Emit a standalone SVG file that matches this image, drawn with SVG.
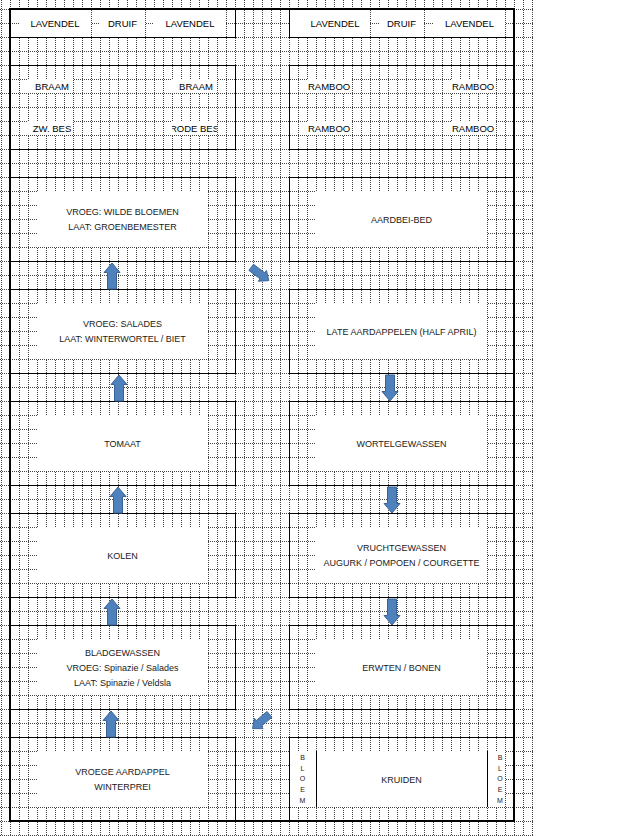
<svg xmlns="http://www.w3.org/2000/svg" width="617" height="836" viewBox="0 0 617 836">
<style>
.grid{fill:none;stroke:#444;stroke-width:1;stroke-dasharray:1 1;shape-rendering:crispEdges}
.cell{fill:#fff}
.box{fill:none;stroke:#000;stroke-width:1;shape-rendering:crispEdges}
.border{fill:none;stroke:#000;stroke-width:2;shape-rendering:crispEdges}
.t{font-family:"Liberation Sans",Arial,sans-serif;font-size:9.5px;fill:#000;text-anchor:middle}
.tl{font-family:"Liberation Sans",Arial,sans-serif;font-size:9.5px;fill:#000}
.b{font-family:"Liberation Sans",Arial,sans-serif;font-size:9px;fill:#1a1a1a;text-anchor:middle}
.s{font-family:"Liberation Sans",Arial,sans-serif;font-size:7px;fill:#1a1a1a;text-anchor:middle}
.arrow{fill:#4f81bd;stroke:#3a6394;stroke-width:1}
</style>
<defs>
<path id="arr" d="M0,-13 L8,-3.5 L4.5,-3.5 L4.5,13 L-4.5,13 L-4.5,-3.5 L-8,-3.5 Z"/>
<clipPath id="clipRode"><rect x="172" y="121" width="45" height="14"/></clipPath>
</defs>
<rect x="0" y="0" width="617" height="836" fill="#fff"/>
<g id="grid">
<path class="grid" d="M1.5,0V836M10.5,0V836M19.5,0V836M28.5,0V836M37.5,0V836M46.5,0V836M55.5,0V836M64.5,0V836M73.5,0V836M82.5,0V836M91.5,0V836M100.5,0V836M109.5,0V836M118.5,0V836M127.5,0V836M136.5,0V836M145.5,0V836M154.5,0V836M163.5,0V836M172.5,0V836M181.5,0V836M190.5,0V836M199.5,0V836M208.5,0V836M217.5,0V836M226.5,0V836M235.5,0V836M244.5,0V836M253.5,0V836M262.5,0V836M271.5,0V836M280.5,0V836M289.5,0V836M298.5,0V836M307.5,0V836M316.5,0V836M325.5,0V836M334.5,0V836M343.5,0V836M352.5,0V836M361.5,0V836M370.5,0V836M379.5,0V836M388.5,0V836M397.5,0V836M406.5,0V836M415.5,0V836M424.5,0V836M433.5,0V836M442.5,0V836M451.5,0V836M460.5,0V836M469.5,0V836M478.5,0V836M487.5,0V836M496.5,0V836M505.5,0V836M514.5,0V836M523.5,0V836M532.5,0V836"/>
<path class="grid" d="M0,9.5H533M0,23.5H533M0,37.5H533M0,51.5H533M0,65.5H533M0,79.5H533M0,93.5H533M0,107.5H533M0,121.5H533M0,135.5H533M0,149.5H533M0,163.5H533M0,177.5H533M0,191.5H533M0,205.5H533M0,219.5H533M0,233.5H533M0,247.5H533M0,261.5H533M0,275.5H533M0,289.5H533M0,303.5H533M0,317.5H533M0,331.5H533M0,345.5H533M0,359.5H533M0,373.5H533M0,387.5H533M0,401.5H533M0,415.5H533M0,429.5H533M0,443.5H533M0,457.5H533M0,471.5H533M0,485.5H533M0,499.5H533M0,513.5H533M0,527.5H533M0,541.5H533M0,555.5H533M0,569.5H533M0,583.5H533M0,597.5H533M0,611.5H533M0,625.5H533M0,639.5H533M0,653.5H533M0,667.5H533M0,681.5H533M0,695.5H533M0,709.5H533M0,723.5H533M0,737.5H533M0,751.5H533M0,765.5H533M0,779.5H533M0,793.5H533M0,807.5H533M0,821.5H533M0,835.5H533"/>
</g>

<g id="left-top">
<rect class="cell" x="19" y="10" width="72" height="27"/>
<rect class="cell" x="100" y="10" width="45" height="27"/>
<rect class="cell" x="154" y="10" width="72" height="27"/>
<rect class="box" x="10.5" y="9.5" width="225" height="28"/>
<text class="t" x="55" y="26.5">LAVENDEL</text>
<text class="t" x="122.5" y="26.5">DRUIF</text>
<text class="t" x="190" y="26.5">LAVENDEL</text>
</g>
<g id="right-top">
<rect class="cell" x="289" y="10" width="81" height="27"/>
<rect class="cell" x="379" y="10" width="45" height="27"/>
<rect class="cell" x="433" y="10" width="72" height="27"/>
<rect class="box" x="289.5" y="9.5" width="225" height="28"/>
<text class="t" x="335" y="26.5">LAVENDEL</text>
<text class="t" x="401.5" y="26.5">DRUIF</text>
<text class="t" x="469.5" y="26.5">LAVENDEL</text>
</g>

<g id="left-berries">
<rect class="cell" x="28" y="79" width="45" height="14"/>
<rect class="cell" x="172" y="79" width="45" height="14"/>
<rect class="cell" x="28" y="121" width="45" height="14"/>
<rect class="cell" x="172" y="121" width="45" height="14"/>
<rect class="box" x="10.5" y="65.5" width="225" height="84"/>
<text class="t" x="52" y="89.5">BRAAM</text>
<text class="t" x="196" y="89.5">BRAAM</text>
<text class="t" x="52" y="131.5">ZW. BES</text>
<text class="t" x="194.5" y="131.5" clip-path="url(#clipRode)">RODE BES</text>
</g>
<g id="right-berries">
<rect class="cell" x="307" y="79" width="45" height="14"/>
<rect class="cell" x="451" y="79" width="45" height="14"/>
<rect class="cell" x="307" y="121" width="45" height="14"/>
<rect class="cell" x="451" y="121" width="45" height="14"/>
<rect class="box" x="289.5" y="65.5" width="225" height="84"/>
<text class="tl" x="308" y="89.5">RAMBOO</text>
<text class="tl" x="452" y="89.5">RAMBOO</text>
<text class="tl" x="308" y="131.5">RAMBOO</text>
<text class="tl" x="452" y="131.5">RAMBOO</text>
</g>

<g id="wilde-bloemen">
<rect class="cell" x="37" y="191" width="171" height="56"/>
<rect class="box" x="10.5" y="177.5" width="225" height="84"/>
<text class="b" x="122.5" y="215">VROEG: WILDE BLOEMEN</text>
<text class="b" x="122.5" y="229.5">LAAT: GROENBEMESTER</text>
</g>
<g id="salades">
<rect class="cell" x="37" y="303" width="171" height="56"/>
<rect class="box" x="10.5" y="289.5" width="225" height="84"/>
<text class="b" x="122.5" y="327">VROEG: SALADES</text>
<text class="b" x="122.5" y="341.5">LAAT: WINTERWORTEL / BIET</text>
</g>
<g id="tomaat">
<rect class="cell" x="37" y="415" width="171" height="56"/>
<rect class="box" x="10.5" y="401.5" width="225" height="84"/>
<text class="b" x="122.5" y="446.5">TOMAAT</text>
</g>
<g id="kolen">
<rect class="cell" x="37" y="527" width="171" height="56"/>
<rect class="box" x="10.5" y="513.5" width="225" height="84"/>
<text class="b" x="122.5" y="558.5">KOLEN</text>
</g>
<g id="bladgewassen">
<rect class="cell" x="37" y="639" width="171" height="56"/>
<rect class="box" x="10.5" y="625.5" width="225" height="84"/>
<text class="b" x="122.5" y="656">BLADGEWASSEN</text>
<text class="b" x="122.5" y="671">VROEG: Spinazie / Salades</text>
<text class="b" x="122.5" y="686">LAAT: Spinazie / Veldsla</text>
</g>
<g id="vroege-aardappel">
<rect class="cell" x="37" y="751" width="171" height="56"/>
<rect class="box" x="10.5" y="737.5" width="225" height="84"/>
<text class="b" x="122.5" y="775">VROEGE AARDAPPEL</text>
<text class="b" x="122.5" y="790">WINTERPREI</text>
</g>

<g id="aardbei-bed">
<rect class="cell" x="316" y="191" width="171" height="56"/>
<rect class="box" x="289.5" y="177.5" width="225" height="84"/>
<text class="b" x="401.5" y="222.5">AARDBEI-BED</text>
</g>
<g id="late-aardappelen">
<rect class="cell" x="316" y="303" width="171" height="56"/>
<rect class="box" x="289.5" y="289.5" width="225" height="84"/>
<text class="b" x="401.5" y="334.5">LATE AARDAPPELEN (HALF APRIL)</text>
</g>
<g id="wortelgewassen">
<rect class="cell" x="316" y="415" width="171" height="56"/>
<rect class="box" x="289.5" y="401.5" width="225" height="84"/>
<text class="b" x="401.5" y="446.5">WORTELGEWASSEN</text>
</g>
<g id="vruchtgewassen">
<rect class="cell" x="316" y="527" width="171" height="56"/>
<rect class="box" x="289.5" y="513.5" width="225" height="84"/>
<text class="b" x="401.5" y="551">VRUCHTGEWASSEN</text>
<text class="b" x="401.5" y="565.5">AUGURK / POMPOEN / COURGETTE</text>
</g>
<g id="erwten-bonen">
<rect class="cell" x="316" y="639" width="171" height="56"/>
<rect class="box" x="289.5" y="625.5" width="225" height="84"/>
<text class="b" x="401.5" y="670.5">ERWTEN / BONEN</text>
</g>
<g id="kruiden">
<rect class="cell" x="289" y="751" width="216" height="56"/>
<rect class="box" x="289.5" y="737.5" width="225" height="84"/>
<path class="box" d="M316.5,751V807M487.5,751V807"/>
<text class="b" x="401.5" y="782.5">KRUIDEN</text>
<text class="s" x="302.5" y="759.5">B</text>
<text class="s" x="302.5" y="770.5">L</text>
<text class="s" x="302.5" y="781">O</text>
<text class="s" x="302.5" y="791.5">E</text>
<text class="s" x="302.5" y="802.5">M</text>
<text class="s" x="500" y="759.5">B</text>
<text class="s" x="500" y="770.5">L</text>
<text class="s" x="500" y="781">O</text>
<text class="s" x="500" y="791.5">E</text>
<text class="s" x="500" y="802.5">M</text>
</g>

<rect id="outer-border" class="border" x="10" y="9" width="504" height="812"/>

<g id="connectors">
<use href="#arr" class="arrow" transform="translate(112,276)"/>
<use href="#arr" class="arrow" transform="translate(119,388)"/>
<use href="#arr" class="arrow" transform="translate(118,500)"/>
<use href="#arr" class="arrow" transform="translate(112,612)"/>
<use href="#arr" class="arrow" transform="translate(111,724)"/>
<use href="#arr" class="arrow" transform="translate(390,388) rotate(180)"/>
<use href="#arr" class="arrow" transform="translate(392,500) rotate(180)"/>
<use href="#arr" class="arrow" transform="translate(392,612) rotate(180)"/>
<use href="#arr" class="arrow" transform="translate(260,274) rotate(127) scale(0.85)"/>
<use href="#arr" class="arrow" transform="translate(261,721.5) rotate(-130) scale(0.85)"/>
</g>
</svg>
